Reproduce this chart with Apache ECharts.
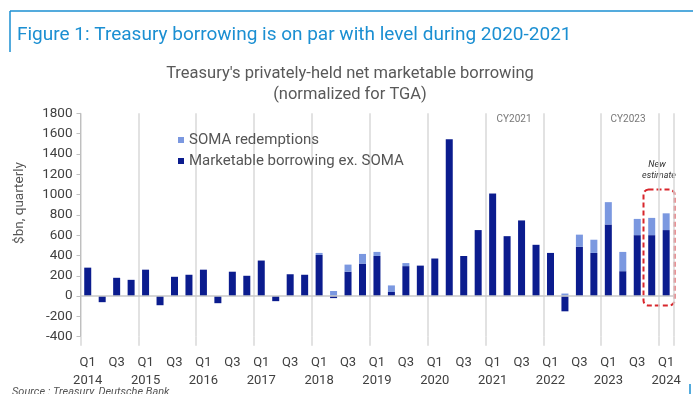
<!DOCTYPE html>
<html>
<head>
<meta charset="utf-8">
<script src="https://cdn.jsdelivr.net/npm/echarts@6/dist/echarts.min.js"></script>
<style>
html,body{margin:0;padding:0;background:#fff;}
#c{width:700px;height:394px;}
</style>
</head>
<body>
<div id="c"></div>
<script>
const categories = [
  'Q1\n2014','Q2','Q3','Q4',
  'Q1\n2015','Q2','Q3','Q4',
  'Q1\n2016','Q2','Q3','Q4',
  'Q1\n2017','Q2','Q3','Q4',
  'Q1\n2018','Q2','Q3','Q4',
  'Q1\n2019','Q2','Q3','Q4',
  'Q1\n2020','Q2','Q3','Q4',
  'Q1\n2021','Q2','Q3','Q4',
  'Q1\n2022','Q2','Q3','Q4',
  'Q1\n2023','Q2','Q3','Q4',
  'Q1\n2024'
];
const marketable = [
  280,-60,180,160,
  260,-90,190,210,
  260,-70,240,200,
  350,-50,215,210,
  405,-20,240,320,
  395,40,295,300,
  370,1545,395,650,
  1010,590,745,505,
  425,-150,485,425,
  705,245,600,600,
  650
];
const soma = [
  0,0,0,0,
  0,0,0,0,
  0,0,0,0,
  0,0,0,0,
  20,50,70,95,
  40,65,30,0,
  0,0,0,0,
  0,0,0,0,
  0,25,120,130,
  220,190,160,170,
  165
];
const yTicks = {min:-400, max:1800, interval:200};

const chart = echarts.init(document.getElementById('c'), null, {renderer:'canvas'});
const txt = '#404040';
const font = 'Roboto, sans-serif';
chart.setOption({
  animation:false,
  backgroundColor:'#fff',
  grid:{left:80.5, right:26.6, top:113.3, bottom:57.3},
  legend:{
    orient:'vertical', left:173, top:127.5,
    itemWidth:6, itemHeight:6, itemGap:6, icon:'rect',
    data:['SOMA redemptions','Marketable borrowing ex. SOMA'],
    textStyle:{fontSize:15, color:'#555', fontFamily:font, lineHeight:15}
  },
  xAxis:{
    type:'category', data:categories,
    axisLine:{show:false, onZero:false},
    axisTick:{show:true, interval:3, length:9, lineStyle:{color:'#d9d9d9', width:1.5}},
    splitLine:{show:true, interval:3, lineStyle:{color:'#d9d9d9', width:1.5}},
    axisLabel:{interval:1, fontSize:13, color:txt, fontFamily:font, lineHeight:18, margin:17}
  },
  yAxis:{
    type:'value', min:yTicks.min, max:yTicks.max, interval:yTicks.interval,
    axisLine:{show:true, lineStyle:{color:'#bfbfbf'}},
    axisTick:{show:true, length:4, lineStyle:{color:'#bfbfbf'}},
    splitLine:{show:false},
    axisLabel:{fontSize:13.5, color:txt, fontFamily:font, margin:8, formatter:function(v){return String(v);}}
  },
  series:[
    {name:'Marketable borrowing ex. SOMA', type:'bar', stack:'s', data:marketable,
     barWidth:7, itemStyle:{color:'#0b1c8e'},
     markLine:{silent:true, symbol:'none', label:{show:false},
       lineStyle:{color:'#c8c8c8', type:'solid', width:1.5}, data:[{yAxis:0}]}},
    {name:'SOMA redemptions', type:'bar', stack:'s', data:soma,
     barWidth:7, itemStyle:{color:'#7b98e0'}}
  ],
  graphic:[
    {type:'line', shape:{x1:10,y1:11,x2:693,y2:11}, style:{stroke:'#1b8fd2', lineWidth:1.5}},
    {type:'line', shape:{x1:10,y1:11,x2:10,y2:52}, style:{stroke:'#1b8fd2', lineWidth:1.5}},
    {type:'text', left:17, top:26, style:{text:'Figure 1: Treasury borrowing is on par with level during 2020-2021', fill:'#1b8fd2', font:'19px ' + font}},
    {type:'text', x:350, y:74, style:{text:"Treasury's privately-held net marketable borrowing", fill:'#595959', font:'16.5px ' + font, align:'center', verticalAlign:'middle'}},
    {type:'text', x:350, y:95, style:{text:'(normalized for TGA)', fill:'#595959', font:'16.5px ' + font, align:'center', verticalAlign:'middle'}},
    {type:'text', x:20, y:203, rotation:Math.PI/2, style:{text:'$bn, quarterly', fill:'#555', font:'13.5px ' + font, align:'center', verticalAlign:'middle'}},
    {type:'text', x:514, y:119, style:{text:'CY2021', fill:'#777', font:'10px ' + font, align:'center', verticalAlign:'middle'}},
    {type:'text', x:628, y:119, style:{text:'CY2023', fill:'#777', font:'10px ' + font, align:'center', verticalAlign:'middle'}},
    {type:'text', x:657, y:165, style:{text:'New', fill:'#333', font:'italic 9px ' + font, align:'center', verticalAlign:'middle'}},
    {type:'text', x:659, y:176, style:{text:'estimate', fill:'#333', font:'italic 9px ' + font, align:'center', verticalAlign:'middle'}},
    {type:'rect', shape:{x:643.5,y:189.5,width:31,height:116,r:5}, style:{fill:'none', stroke:'#d8262c', lineWidth:2, lineDash:[5,3]}},
    {type:'text', x:12, y:392, style:{text:'Source : Treasury, Deutsche Bank', fill:'#555', font:'italic 11px ' + font, verticalAlign:'middle'}},
    {type:'line', shape:{x1:690,y1:384,x2:690,y2:394}, style:{stroke:'#1b8fd2', lineWidth:1.5}}
  ]
});
</script>
</body>
</html>
